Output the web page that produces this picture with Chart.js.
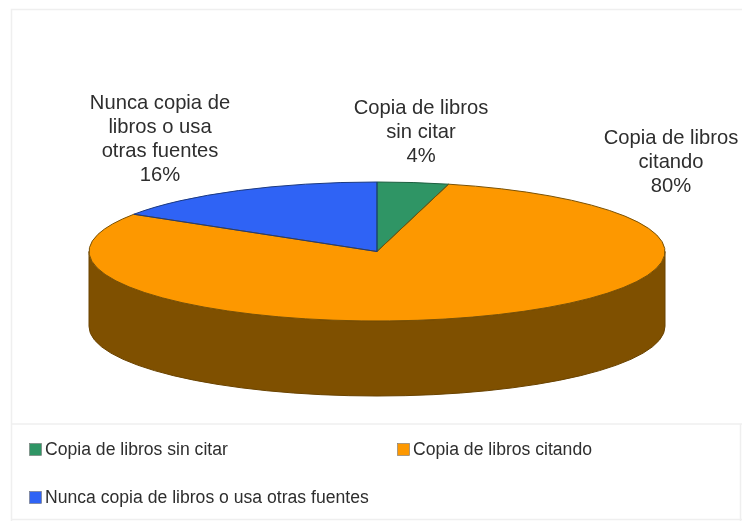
<!DOCTYPE html>
<html>
<head>
<meta charset="utf-8">
<style>
html,body{margin:0;padding:0;background:#fff;overflow:hidden}
canvas{display:block;filter:blur(0.55px)}
</style>
<script src="https://cdn.jsdelivr.net/npm/chart.js@4/dist/chart.umd.js"></script>
</head>
<body>
<canvas id="c" width="742" height="521"></canvas>
<script>
const categories = ["Copia de libros sin citar", "Copia de libros citando", "Nunca copia de libros o usa otras fuentes"];
const values = [4, 80, 16];
const labelLines = [["Copia de libros", "sin citar"], ["Copia de libros", "citando"], ["Nunca copia de", "libros o usa", "otras fuentes"]];
const topColors = ["#2f9565", "#fd9800", "#2f63f5"];
const wallColors = ["#1c5c3e", "#7f5000", "#1a3a90"];
const edgeColors = ["#1d5f40", "#7a5206", "#1c3a80"];

const FONT = "Liberation Sans, Arial, sans-serif";
const TEXT = "#2e2e2e";
const PIE = {cx: 377, cy: 251.5, rx: 288, ry: 69.5, depth: 75};
const labelSpots = [{x: 421, y: 108}, {x: 671, y: 138}, {x: 160, y: 103}];
const legendSpots = [{x: 29, y: 449.5}, {x: 397, y: 449.5}, {x: 29, y: 497.5}];

function squash(ctx, el) {
  ctx.translate(PIE.cx, PIE.cy);
  ctx.scale(PIE.rx / el.outerRadius, PIE.ry / el.outerRadius);
  ctx.translate(-el.x, -el.y);
}

const pie3d = {
  id: "pie3d",
  beforeDraw(chart) {
    const c = chart.ctx;
    c.save();
    c.fillStyle = "#ffffff";
    c.fillRect(0, 0, 742, 521);
    c.strokeStyle = "#efefef";
    c.lineWidth = 1.5;
    c.beginPath();
    c.moveTo(11.5, 521); c.lineTo(11.5, 9.5); c.lineTo(742, 9.5);
    c.moveTo(11.5, 424); c.lineTo(742, 424);
    c.moveTo(11.5, 519.5); c.lineTo(742, 519.5);
    c.moveTo(740.5, 424); c.lineTo(740.5, 521);
    c.stroke();
    c.restore();
  },
  beforeDatasetsDraw(chart) {
    const c = chart.ctx;
    const arcs = chart.getDatasetMeta(0).data;
    arcs.forEach((el, i) => {
      const a1 = Math.max(el.startAngle, 0);
      const a2 = Math.min(el.endAngle, Math.PI);
      if (a2 <= a1) return;
      c.save();
      c.beginPath();
      c.ellipse(PIE.cx, PIE.cy, PIE.rx, PIE.ry, 0, a1, a2);
      c.ellipse(PIE.cx, PIE.cy + PIE.depth, PIE.rx, PIE.ry, 0, a2, a1, true);
      c.closePath();
      c.fillStyle = wallColors[i];
      c.strokeStyle = "#6a4300";
      c.lineWidth = 1;
      c.fill();
      c.stroke();
      c.restore();
    });
    c.save();
    squash(c, arcs[0]);
  },
  afterDatasetsDraw(chart) {
    const c = chart.ctx;
    c.restore();
    const arcs = chart.getDatasetMeta(0).data;
    arcs.forEach((el, i) => {
      c.save();
      squash(c, el);
      c.beginPath();
      c.moveTo(el.x, el.y);
      c.arc(el.x, el.y, el.outerRadius, el.startAngle, el.endAngle);
      c.closePath();
      c.restore();
      c.strokeStyle = edgeColors[i];
      c.lineWidth = 1;
      c.stroke();
    });
  },
  afterDraw(chart) {
    const c = chart.ctx;
    c.save();
    c.fillStyle = TEXT;
    c.font = "20.2px " + FONT;
    c.textAlign = "center";
    c.textBaseline = "middle";
    labelLines.forEach((lines, i) => {
      const all = lines.concat(values[i] + "%");
      all.forEach((t, j) => c.fillText(t, labelSpots[i].x, labelSpots[i].y + j * 24));
    });
    c.font = "17.6px " + FONT;
    c.textAlign = "left";
    categories.forEach((t, i) => {
      const s = legendSpots[i];
      c.fillStyle = topColors[i];
      c.fillRect(s.x + 0.5, s.y - 6, 12, 12);
      c.strokeStyle = "#777";
      c.lineWidth = 0.6;
      c.strokeRect(s.x + 0.5, s.y - 6, 12, 12);
      c.fillStyle = TEXT;
      c.fillText(t, s.x + 16, s.y + 0.5);
    });
    c.restore();
  }
};

new Chart(document.getElementById("c"), {
  type: "pie",
  data: {
    labels: categories,
    datasets: [{data: values, backgroundColor: topColors, borderWidth: 0}]
  },
  options: {
    responsive: false,
    animation: false,
    rotation: 0,
    layout: {padding: 0},
    plugins: {legend: {display: false}, tooltip: {enabled: false}, title: {display: false}}
  },
  plugins: [pie3d]
});
</script>
</body>
</html>
